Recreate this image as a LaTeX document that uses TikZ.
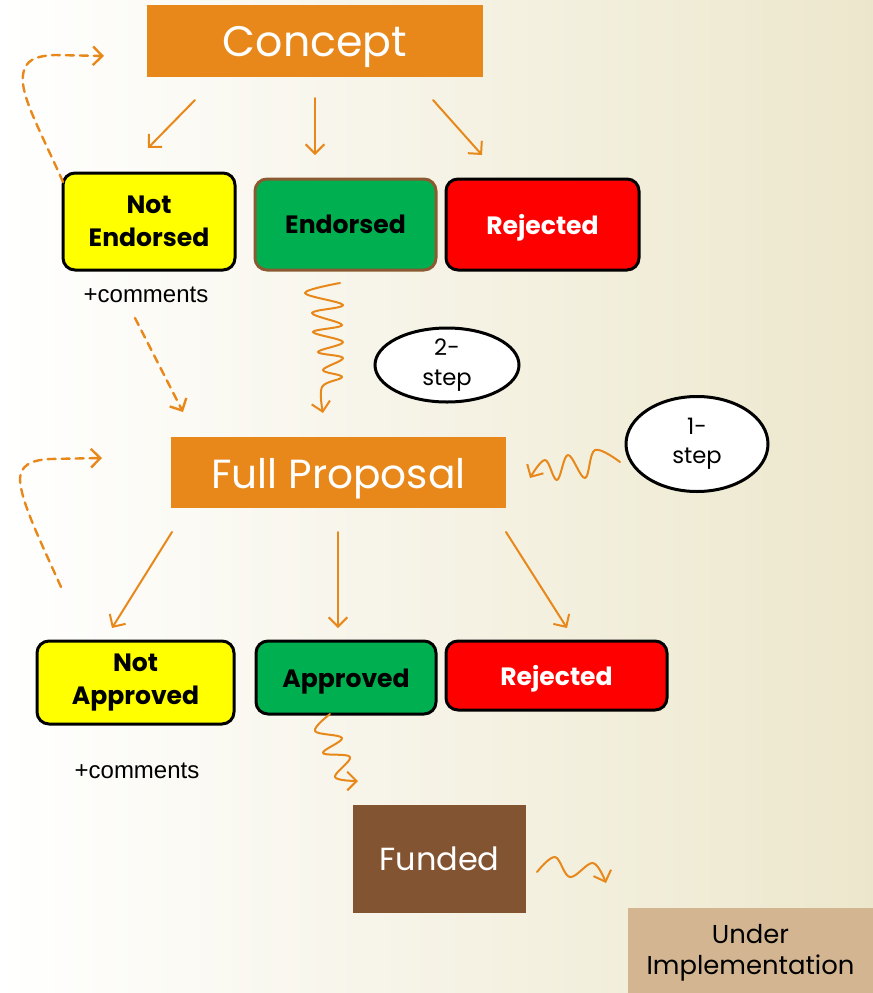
\documentclass[tikz,border=0pt]{standalone}
\usepackage{fontspec}
\setmainfont{Poppins}
\newfontfamily\arialf{Liberation Sans}
\usetikzlibrary{arrows.meta,shapes.geometric}
\definecolor{orng}{RGB}{232,136,26}
\definecolor{bgbeige}{RGB}{236,231,204}
\definecolor{yellowc}{RGB}{255,255,0}
\definecolor{greenc}{RGB}{0,176,80}
\definecolor{redc}{RGB}{255,0,0}
\definecolor{endbrown}{RGB}{140,90,50}
\definecolor{fundbrown}{RGB}{131,84,50}
\definecolor{tanc}{RGB}{211,182,145}
\begin{document}
\begin{tikzpicture}[x=0.75pt,y=-0.75pt,
  flat/.style={rectangle, inner sep=0pt, text=white, align=center, font=\fontsize{31}{36}\selectfont},
  boldline/.style={text height=19.9pt, text depth=4.7pt},
  rbox/.style={rectangle, rounded corners=9pt, draw=black, line width=2.25pt, inner sep=0pt, align=center, font=\bfseries\fontsize{18.8}{24.5}\selectfont},
  oval/.style={ellipse, draw=black, line width=2.25pt, fill=white, inner sep=0pt, align=center, font=\fontsize{17}{22}\selectfont},
  comm/.style={font=\arialf\fontsize{18}{21}\selectfont},
  arr/.style={draw=orng, line width=1.5pt, line cap=round, -{Straight Barb[length=7pt,width=14pt]}},
  darr/.style={arr, line width=1.8pt, dash pattern=on 6pt off 4.5pt},
  squig/.style={arr, line join=round}
]
\shade[left color=white, right color=bgbeige] (0,0) rectangle (873,993);
\useasboundingbox (0,0) rectangle (873,993);

\node[flat, text height=30.8pt, text depth=8pt, fill=orng, font=\fontsize{32}{36}\selectfont, minimum width=252pt, minimum height=54pt] (concept) at (315,41) {Concept};
\node[rbox, fill=yellowc, minimum width=129pt, minimum height=72.75pt] (ne) at (149,221.5) {Not\\Endorsed};
\node[rbox, fill=greenc, draw=endbrown, minimum width=135.75pt, minimum height=68.25pt] (end) at (345.5,224.5) {Endorsed};
\node[rbox, boldline, fill=redc, text=white, minimum width=144.75pt, minimum height=68.25pt] (rej1) at (542.5,224.5) {Rejected};
\node[comm] (com1) at (146,295) {+comments};
\node[oval, minimum width=108pt, minimum height=55.5pt] (two) at (447,365) {2-\\step};
\node[oval, minimum width=106.5pt, minimum height=71.25pt] (one) at (697,444) {1-\\step};
\node[flat, text height=32.6pt, text depth=8pt, fill=orng, font=\fontsize{30.5}{36}\selectfont, minimum width=251.25pt, minimum height=53.25pt] (full) at (338.5,472.5) {Full Proposal};
\node[rbox, fill=yellowc, minimum width=147.75pt, minimum height=62.25pt] (na) at (135.5,682.5) {Not\\Approved};
\node[rbox, boldline, fill=greenc, minimum width=135pt, minimum height=54.75pt] (app) at (346,677.5) {Approved};
\node[rbox, boldline, fill=redc, text=white, minimum width=165.75pt, minimum height=51.75pt] (rej2) at (556.5,675.5) {Rejected};
\node[comm] (com2) at (137,771) {+comments};
\node[flat, fill=fundbrown, font=\fontsize{24}{28}\selectfont, minimum width=129.75pt, minimum height=81pt] (fund) at (439.5,859) {Funded};
\node[flat, fill=tanc, text=black, font=\fontsize{19.4}{23.5}\selectfont, minimum width=183.75pt, minimum height=63.75pt] (impl) at (750.5,950.5) {};
\node[text=black, align=center, font=\fontsize{19.4}{23.5}\selectfont, inner sep=0pt] (impltext) at (750.5,953) {Under\\Implementation};

% connector end points
\coordinate (c1a) at (195,100); \coordinate (c1b) at (148,148);
\coordinate (c2a) at (315,98);  \coordinate (c2b) at (315,155);
\coordinate (c3a) at (433,100); \coordinate (c3b) at (482,155);
\coordinate (f1a) at (172,532); \coordinate (f1b) at (112,628);
\coordinate (f2a) at (338,532); \coordinate (f2b) at (338,628);
\coordinate (f3a) at (506,532); \coordinate (f3b) at (567,628);
\coordinate (d1a) at (135,318); \coordinate (d1b) at (183,412);

\draw[arr] (c1a) -- (c1b);
\draw[arr] (c2a) -- (c2b);
\draw[arr] (c3a) -- (c3b);
\draw[arr] (f1a) -- (f1b);
\draw[arr] (f2a) -- (f2b);
\draw[arr] (f3a) -- (f3b);
\draw[darr] (d1a) -- (d1b);

% dashed loops
\draw[darr] (63,182) .. controls (40,130) and (20,95) .. (23,75) .. controls (25,60) and (35,56) .. (55,55) -- (104,56);
\draw[darr] (61,587) .. controls (40,540) and (20,500) .. (20,478) .. controls (21,466) and (30,460) .. (50,459) -- (102,458);

% squiggles
\draw[squig] plot[smooth, tension=0.6] coordinates {(340,283) (305,293) (343,305) (312,313) (342,325) (313,332) (343,342) (318,352) (343,358) (323,370) (342,377) (322,387) (323,413)};
\draw[squig] plot[smooth, tension=0.6] coordinates {(620,462) (595,450) (585,478) (568,455) (557,480) (545,460) (530,478)};
\draw[squig] plot[smooth, tension=0.6] coordinates {(330,714) (315,731) (342,738) (323,753) (350,757) (335,777) (358,781)};
\draw[squig] plot[smooth, tension=0.6] coordinates {(537,872) (555,857) (570,877) (593,863) (606,883)};
\end{tikzpicture}
\end{document}
